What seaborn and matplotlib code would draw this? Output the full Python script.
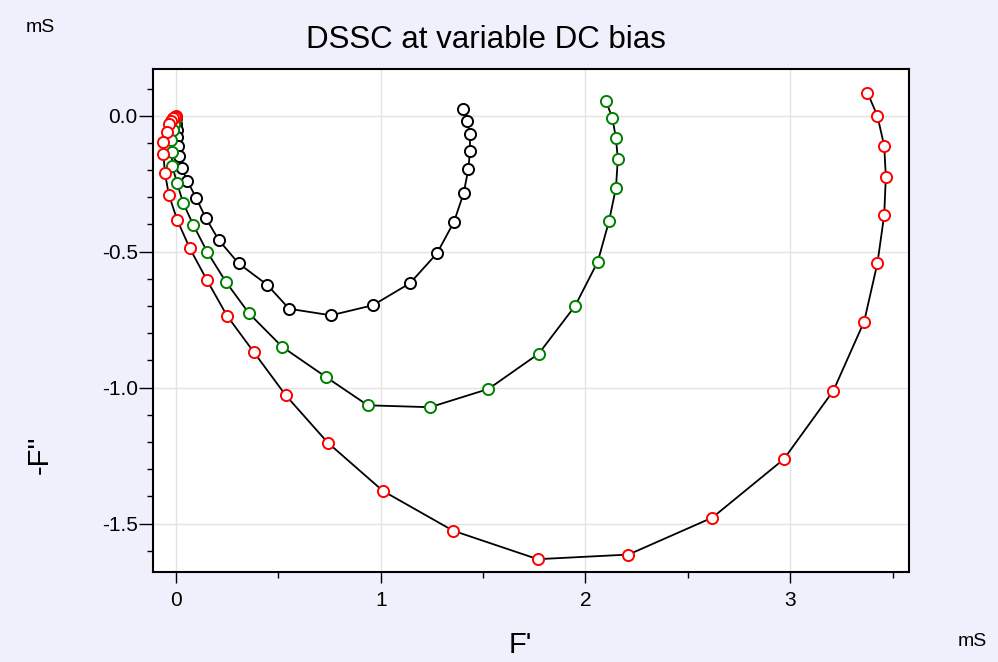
import numpy as np
import pandas as pd
import matplotlib
matplotlib.use("Agg")
import matplotlib.pyplot as plt
import seaborn as sns
from matplotlib.ticker import MultipleLocator, FormatStrFormatter

# ---- data (mS) ----
black_x = [0.0, 0.0015, 0.003, 0.003, 0.011, 0.016, 0.028, 0.055, 0.098, 0.145, 0.209, 0.306,
           0.446, 0.553, 0.757, 0.962, 1.143, 1.275, 1.358, 1.405, 1.428, 1.436, 1.436, 1.422, 1.404]
black_y = [-0.008, -0.031, -0.053, -0.077, -0.111, -0.148, -0.193, -0.239, -0.301, -0.375, -0.457, -0.543,
           -0.622, -0.710, -0.734, -0.697, -0.616, -0.506, -0.390, -0.285, -0.197, -0.130, -0.068, -0.021, 0.024]

green_x = [0.0, -0.005, -0.010, -0.015, -0.022, -0.021, -0.018, 0.006, 0.036, 0.085, 0.153, 0.243, 0.357,
           0.519, 0.733, 0.937, 1.241, 1.526, 1.772, 1.949, 2.060, 2.115, 2.149, 2.158, 2.149, 2.131, 2.101]
green_y = [-0.005, -0.016, -0.031, -0.053, -0.089, -0.132, -0.185, -0.249, -0.322, -0.402, -0.501, -0.610, -0.727,
           -0.850, -0.961, -1.065, -1.072, -1.005, -0.875, -0.700, -0.537, -0.388, -0.265, -0.160, -0.082, -0.008, 0.053]

red_x = [0.0, -0.005, -0.012, -0.022, -0.032, -0.043, -0.061, -0.061, -0.054, -0.034, 0.006, 0.068, 0.151,
         0.249, 0.381, 0.536, 0.741, 1.011, 1.353, 1.767, 2.210, 2.620, 2.969, 3.211, 3.361, 3.426, 3.459,
         3.467, 3.459, 3.426, 3.377]
red_y = [-0.001, -0.005, -0.010, -0.018, -0.031, -0.058, -0.095, -0.142, -0.210, -0.292, -0.383, -0.488, -0.604,
         -0.735, -0.870, -1.028, -1.202, -1.380, -1.526, -1.631, -1.614, -1.478, -1.263, -1.011, -0.757, -0.542, -0.365,
         -0.224, -0.111, -0.001, 0.085]

series = [("black", black_x, black_y, "#000000"),
          ("green", green_x, green_y, "#008000"),
          ("red", red_x, red_y, "#ff0000")]

title = "DSSC at variable DC bias"
xlabel = "F'"
ylabel = "-F''"
unit = "mS"

# ---- plot ----
sns.set_style("white")
plt.rcParams["font.family"] = ["Liberation Sans", "DejaVu Sans"]
plt.rcParams["text.color"] = "black"
plt.rcParams["axes.labelcolor"] = "black"
plt.rcParams["xtick.color"] = "black"
plt.rcParams["ytick.color"] = "black"

bg = "#f0f0fc"
fig = plt.figure(figsize=(9.98, 6.62), dpi=100, facecolor=bg)
ax = fig.add_axes([0.1533, 0.1360, 0.9108 - 0.1533, 0.8958 - 0.1360])
ax.set_facecolor("white")

for i, (name, xs, ys, c) in enumerate(series):
    df = pd.DataFrame({"x": xs, "y": ys})
    sns.lineplot(data=df, x="x", y="y", ax=ax, sort=False, estimator=None,
                 color="black", linewidth=1.3, marker="o", markersize=8,
                 markerfacecolor="white", markeredgecolor=c, markeredgewidth=1.4,
                 zorder=3 + i)

ax.set_xlim(-0.112, 3.58)
ax.set_ylim(-1.678, 0.172)

ax.xaxis.set_major_locator(MultipleLocator(1))
ax.xaxis.set_minor_locator(MultipleLocator(0.5))
ax.yaxis.set_major_locator(MultipleLocator(0.5))
ax.yaxis.set_minor_locator(MultipleLocator(0.1))
ax.yaxis.set_major_formatter(FormatStrFormatter("%.1f"))
ax.xaxis.set_major_formatter(FormatStrFormatter("%d"))

ax.grid(True, which="major", color="#e3e3e3", linewidth=1.0, zorder=0)
ax.set_axisbelow(True)

for s in ax.spines.values():
    s.set_color("black")
    s.set_linewidth(1.5)

ax.tick_params(axis="x", which="major", direction="out", length=8, width=1.0,
               labelsize=15, pad=6, bottom=True, colors="black")
ax.tick_params(axis="x", which="minor", direction="out", length=4.5, width=1.0, bottom=True)
ax.tick_params(axis="y", which="major", direction="out", length=10, width=1.0,
               labelsize=15, pad=1, left=True, colors="black")
ax.tick_params(axis="y", which="minor", direction="out", length=4.5, width=1.0, left=True)

ax.set_xlabel("")
ax.set_ylabel("")

fig.text(486 / 998, 1 - 40 / 662, title, ha="center", va="center", fontsize=22.5, color="black")
fig.text(520 / 998, 1 - 645 / 662, xlabel, ha="center", va="center", fontsize=21, color="black")
fig.text(40 / 998, 1 - 455 / 662, ylabel, ha="center", va="center", fontsize=21, rotation=90, color="black")
fig.text(40 / 998, 1 - 28 / 662, unit, ha="center", va="center", fontsize=14, color="black")
fig.text(972 / 998, 1 - 642 / 662, unit, ha="center", va="center", fontsize=14, color="black")

fig.savefig("out.png", dpi=100, facecolor=bg)
